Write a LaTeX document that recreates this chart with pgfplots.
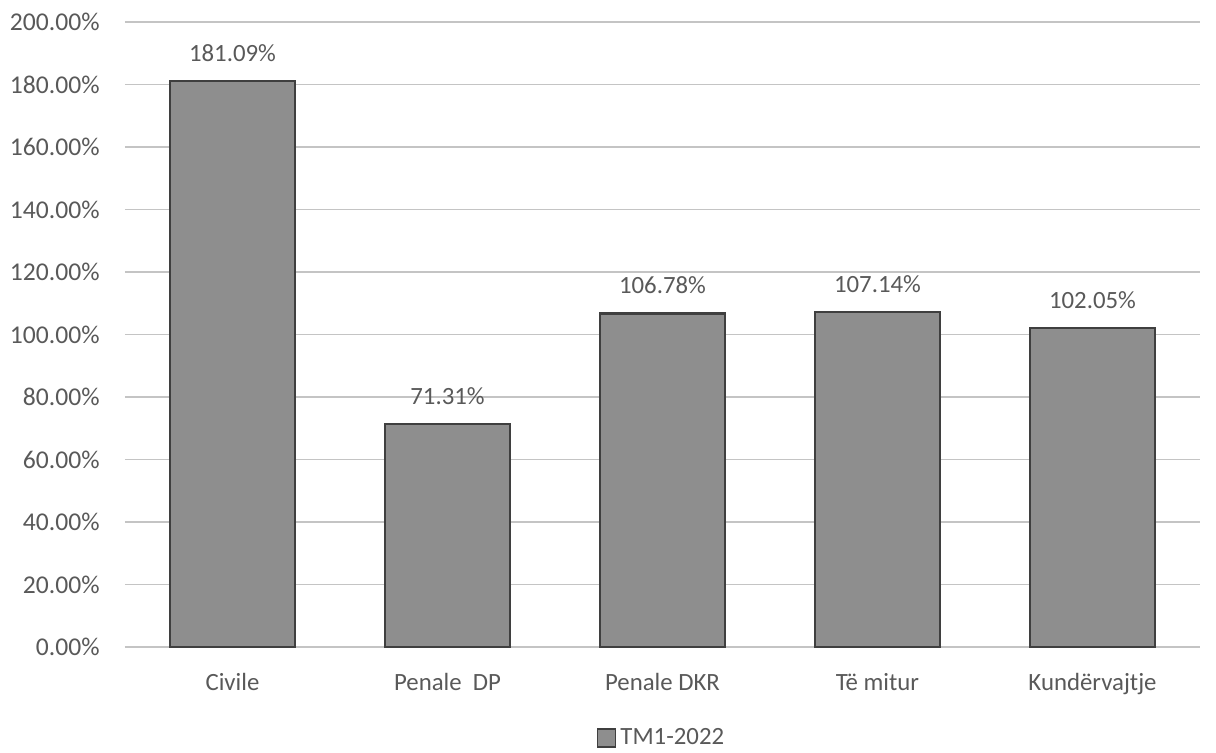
\documentclass[border=0pt]{standalone}
\usepackage{fontspec}
\setmainfont{Carlito}
\usepackage{pgfplots}
\pgfplotsset{compat=1.18}
\definecolor{txt}{HTML}{595959}
\definecolor{barfill}{HTML}{8E8E8E}
\definecolor{baredge}{HTML}{3F3F3F}
\definecolor{gridc}{HTML}{C4C4C4}
\begin{document}
\fontsize{12.4}{15}\selectfont
\begin{tikzpicture}
\begin{axis}[
  at={(0,0)}, anchor=south west,
  scale only axis,
  width=537.5pt, height=312.5pt,
  xmin=-0.5, xmax=4.5,
  ymin=0, ymax=200,
  ytick={0,20,...,200},
  xtick=data,
  xticklabels={Civile, Penale\ \ DP, Penale DKR, Të mitur, Kundërvajtje},
  ymajorgrids,
  grid style={gridc, line width=0.6pt},
  axis x line*=bottom,
  axis y line*=left,
  y axis line style={draw=none},
  x axis line style={gridc, line width=0.6pt, -},
  major tick length=0pt,
  tick style={draw=none},
  /pgf/number format/assume math mode=true,
  yticklabel={\pgfmathprintnumber[fixed,fixed zerofill,precision=2]{\tick}\%},
  yticklabel style={text=txt, inner sep=0pt, xshift=-12.5pt, font=\fontsize{12.8}{15}\selectfont},
  xticklabel style={text=txt, inner sep=0pt, yshift=-13pt},
  ybar, bar width=62.5pt,
  point meta=explicit symbolic,
  nodes near coords,
  every node near coord/.append style={text=txt, inner sep=0pt, yshift=9pt},
  legend style={at={(0.5,-0.1456)}, anchor=center, draw=none, fill=none,
    text=txt, inner sep=0pt, legend cell align=left,
    /tikz/every even column/.append style={column sep=2pt}},
  legend image code/.code={\draw[fill=barfill, draw=baredge, line width=0.8pt] (0pt,-4.5pt) rectangle (9pt,4.5pt);},
  clip=false,
]
\addplot[fill=barfill, draw=baredge, line width=1.2pt] coordinates {
  (0,181.09) [181.09\%]
  (1,71.31) [71.31\%]
  (2,106.78) [106.78\%]
  (3,107.14) [107.14\%]
  (4,102.05) [102.05\%]
};
\addlegendentry{TM1-2022}
\end{axis}
\path[use as bounding box] (-62.5pt,-53pt) rectangle (545.5pt,323.5pt);
\end{tikzpicture}
\end{document}
